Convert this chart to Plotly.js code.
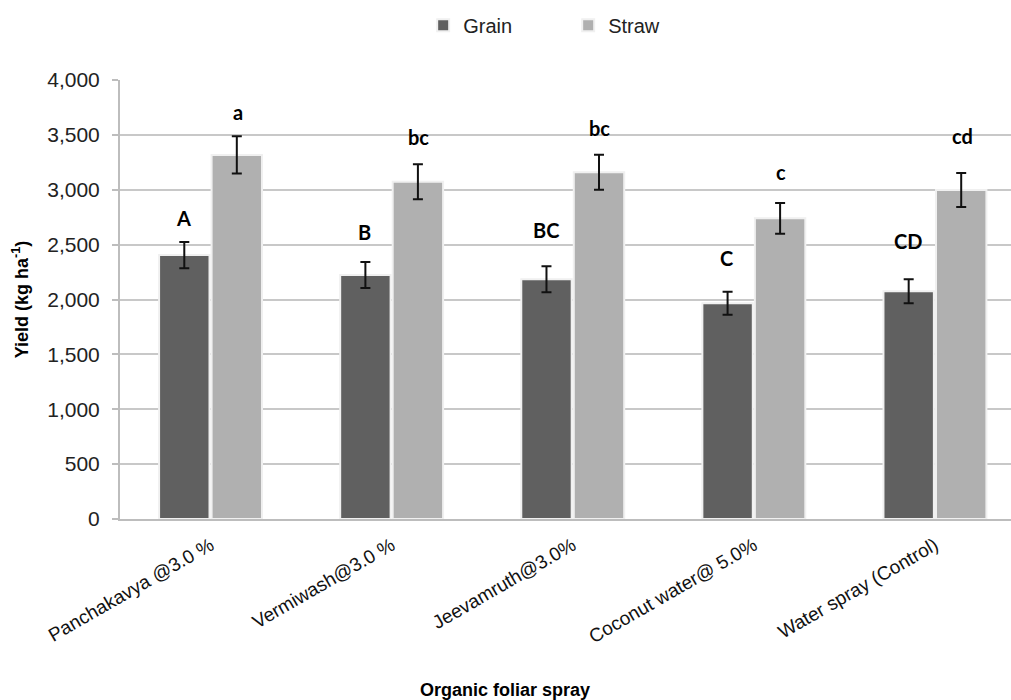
<!DOCTYPE html>
<html>
<head>
<meta charset="utf-8">
<script src="https://cdn.plot.ly/plotly-3.0.1.min.js"></script>
<style>html,body{margin:0;padding:0;background:#fff;}#chart{width:1011px;height:700px;}</style>
</head>
<body>
<div id="chart"></div>
<script>
var categories = ["Panchakavya @3.0 %", "Vermiwash@3.0 %", "Jeevamruth@3.0%", "Coconut water@ 5.0%", "Water spray (Control)"];
var grain = [2405, 2223, 2184, 1965, 2075];
var grainErr = [120, 118, 118, 105, 110];
var straw = [3317, 3073, 3159, 2740, 2998];
var strawErr = [170, 160, 160, 140, 155];
var grainLetters = ["A", "B", "BC", "C", "CD"];
var strawLetters = ["a", "bc", "bc", "c", "cd"];
var grainLetterY = [2743, 2615, 2633, 2378, 2533];
var strawLetterY = [3708, 3481, 3563, 3162, 3490];
var yTicks = [0, 500, 1000, 1500, 2000, 2500, 3000, 3500, 4000];

var xIdx = categories.map(function(c, i){ return i; });

var traces = [
  {
    type: "bar", name: "Grain", x: xIdx, y: grain,
    marker: {color: "#606060", line: {color: "#f0f0f0", width: 2}},
    error_y: {type: "data", array: grainErr, visible: true, color: "#111", thickness: 2, width: 5}
  },
  {
    type: "bar", name: "Straw", x: xIdx, y: straw,
    marker: {color: "#b0b0b0", line: {color: "#f0f0f0", width: 2}},
    error_y: {type: "data", array: strawErr, visible: true, color: "#111", thickness: 2, width: 5}
  }
];

var annotations = [];
for (var i = 0; i < categories.length; i++) {
  annotations.push({x: i - 0.15, y: grainLetterY[i], xref: "x", yref: "y", text: grainLetters[i], showarrow: false,
    font: {family: "Lato, 'Open Sans', sans-serif", size: 20, color: "#000", weight: "bold"}, yanchor: "middle"});
  annotations.push({x: i + 0.15, y: strawLetterY[i], xref: "x", yref: "y", text: strawLetters[i], showarrow: false,
    font: {family: "Lato, 'Open Sans', sans-serif", size: 20, color: "#000", weight: "bold"}, yanchor: "middle"});
}
annotations.push({x: 0.432, y: -0.39, xref: "paper", yref: "paper", text: "<b>Organic foliar spray</b>", showarrow: false,
  font: {family: "'Liberation Sans Narrow', 'Liberation Sans', Arial, sans-serif", size: 18, color: "#000"}, yanchor: "middle"});

var layout = {
  width: 1011, height: 700,
  margin: {l: 120, r: 0, t: 80, b: 181, autoexpand: false},
  paper_bgcolor: "#fff", plot_bgcolor: "#fff",
  barmode: "group", bargap: 0.42, bargroupgap: 0.04,
  showlegend: true,
  legend: {orientation: "h", x: 0.503, xanchor: "center", y: 1.125, yanchor: "middle",
    font: {family: "'Liberation Sans', Arial, sans-serif", size: 20, color: "#222"}, entrywidth: 100},
  xaxis: {
    range: [-0.5, 4.42], tickmode: "array", tickvals: xIdx, ticktext: categories,
    tickangle: -30, showgrid: false, showline: true, linecolor: "#bdbdbd", linewidth: 2,
    ticks: "", zeroline: false, ticklabelstandoff: 6,
    tickfont: {family: "'Liberation Sans Narrow', 'Liberation Sans', Arial, sans-serif", size: 19, color: "#111"}
  },
  yaxis: {
    range: [0, 4000], tickmode: "array", tickvals: yTicks,
    ticktext: yTicks.map(function(v){ return v.toLocaleString("en-US"); }),
    showgrid: true, gridcolor: "#c8c8c8", gridwidth: 2,
    showline: true, linecolor: "#bdbdbd", linewidth: 2,
    ticks: "outside", ticklen: 6, tickcolor: "#bdbdbd", tickwidth: 2,
    ticklabelstandoff: 8,
    zeroline: false,
    tickfont: {family: "'Liberation Sans', Arial, sans-serif", size: 21, color: "#222"},
    title: {text: "<b>Yield (kg ha<sup>-1</sup>)</b>", standoff: 14,
      font: {family: "'Liberation Sans', Arial, sans-serif", size: 18, color: "#000"}}
  },
  annotations: annotations
};

Plotly.newPlot("chart", traces, layout, {displayModeBar: false, staticPlot: true});
</script>
</body>
</html>
